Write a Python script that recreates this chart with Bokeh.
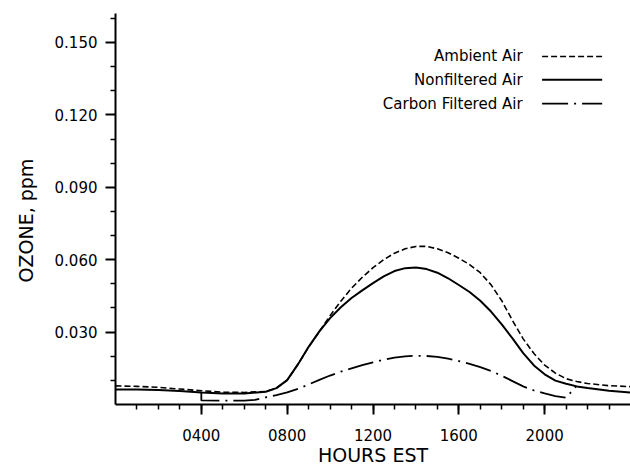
from bokeh.plotting import figure
from bokeh.models import FixedTicker, Range1d, Title, NumeralTickFormatter
from bokeh.core.properties import value
from bokeh.embed import file_html
from bokeh.resources import INLINE

# ---- data ----
ambient_hours = [0, 1, 2, 3, 4, 5, 6, 7, 7.5, 8, 8.5, 9, 9.5, 10, 10.5, 11, 11.5, 12, 12.5, 13, 13.5,
                 14, 14.5, 15, 15.5, 16, 16.5, 17, 17.5, 18, 18.5, 19, 19.5, 20, 20.5, 21, 21.5, 22, 23, 24]
ambient_ppm = [0.0077, 0.0075, 0.0071, 0.0064, 0.0057, 0.0051, 0.0050, 0.0054, 0.0068, 0.0101, 0.0166,
               0.0238, 0.0302, 0.0368, 0.0428, 0.0482, 0.0527, 0.0567, 0.0600, 0.0627, 0.0645,
               0.0655, 0.0655, 0.0645, 0.0629, 0.0606, 0.0580, 0.0546, 0.0496, 0.0430, 0.0348,
               0.0272, 0.0211, 0.0163, 0.0130, 0.0107, 0.0095, 0.0087, 0.0078, 0.0074]

nonfilt_hours = [0, 1, 2, 3, 4, 5, 6, 7, 7.5, 8, 8.5, 9, 9.5, 10, 10.5, 11, 11.5, 12, 12.5, 13, 13.5,
                 14, 14.5, 15, 15.5, 16, 16.5, 17, 17.5, 18, 18.5, 19, 19.5, 20, 20.5, 21, 21.5, 22, 23, 24]
nonfilt_ppm = [0.0062, 0.0062, 0.0060, 0.0056, 0.0050, 0.0046, 0.0046, 0.0053, 0.0068, 0.0101, 0.0166,
               0.0239, 0.0303, 0.0358, 0.0403, 0.0441, 0.0473, 0.0503, 0.0531, 0.0553, 0.0565,
               0.0568, 0.0561, 0.0546, 0.0523, 0.0495, 0.0466, 0.0430, 0.0385, 0.0332, 0.0274,
               0.0213, 0.0162, 0.0125, 0.0099, 0.0086, 0.0075, 0.0068, 0.0057, 0.0050]

carbon_hours = [4, 4, 5, 6, 6.5, 7, 7.5, 8, 8.5, 9, 9.5, 10, 10.5, 11, 11.5, 12, 12.5, 13, 13.5, 14,
                14.5, 15, 15.5, 16, 16.5, 17, 17.5, 18, 18.5, 19, 19.5, 20, 20.5, 21, 21.45]
carbon_ppm = [0.0050, 0.0017, 0.0016, 0.0016, 0.0019, 0.0030, 0.0039, 0.0050, 0.0065, 0.0083, 0.0102,
              0.0120, 0.0136, 0.0150, 0.0163, 0.0175, 0.0186, 0.0194, 0.0199, 0.0202, 0.0201,
              0.0197, 0.0190, 0.0180, 0.0168, 0.0155, 0.0139, 0.0119, 0.0097, 0.0075, 0.0058,
              0.0046, 0.0035, 0.0028, 0.0074]

x_tick_values = [4, 8, 12, 16, 20]
x_tick_labels = ["0400", "0800", "1200", "1600", "2000"]
x_minor_ticks = list(range(1, 24))
y_tick_values = [0.03, 0.06, 0.09, 0.12, 0.15]
y_minor_ticks = [0.01, 0.02, 0.04, 0.05, 0.07, 0.08, 0.10, 0.11, 0.13, 0.14, 0.16]

legend_labels = ["Ambient Air", "Nonfiltered Air", "Carbon Filtered Air"]

FONT = "DejaVu Sans"

p = figure(width=630, height=469, x_range=Range1d(0, 24), y_range=Range1d(0, 0.162),
           output_backend="svg", toolbar_location=None,
           min_border_left=115, min_border_right=0, min_border_top=13, min_border_bottom=65)
p.outline_line_color = None
p.xgrid.visible = False
p.ygrid.visible = False
p.background_fill_color = "white"

# axes
for ax in (p.xaxis[0], p.yaxis[0]):
    ax.axis_line_width = 2
    ax.axis_line_color = "black"
    ax.major_tick_line_width = 2
    ax.minor_tick_line_width = 1.5
    ax.major_tick_line_color = "black"
    ax.minor_tick_line_color = "black"
    ax.major_tick_out = 10
    ax.major_tick_in = 0
    ax.minor_tick_out = 5
    ax.minor_tick_in = 0
    ax.major_label_text_font = FONT
    ax.major_label_text_font_size = "15px"
    ax.major_label_text_color = "black"

p.xaxis.ticker = FixedTicker(ticks=x_tick_values, minor_ticks=x_minor_ticks)
p.xaxis.major_label_overrides = dict(zip(x_tick_values, x_tick_labels))
p.xaxis.major_label_standoff = 14
p.xaxis.axis_label = "HOURS EST"
p.xaxis.axis_label_text_font = FONT
p.xaxis.axis_label_text_font_size = "19px"
p.xaxis.axis_label_text_font_style = "normal"
p.xaxis.axis_label_text_color = "black"
p.xaxis.axis_label_standoff = 0

p.yaxis.ticker = FixedTicker(ticks=y_tick_values, minor_ticks=y_minor_ticks)
p.yaxis.formatter = NumeralTickFormatter(format="0.000")
p.yaxis.major_label_standoff = 8

ytitle = Title(text="OZONE, ppm", align="left", offset=122, vertical_align="top",
               text_font=FONT, text_font_size="19px", text_font_style="normal",
               text_color="black", standoff=26)
p.add_layout(ytitle, "left")

# data lines
p.line(ambient_hours, ambient_ppm, line_color="black", line_width=1.6, line_dash="6 3")
p.line(nonfilt_hours, nonfilt_ppm, line_color="black", line_width=2)
p.line(carbon_hours, carbon_ppm, line_color="black", line_width=1.8, line_dash="26 6 2 6")

# legend (text right-aligned, sample line on the right)
leg_text_x = 18.97
leg_line_x0 = 19.88
leg_line_x1 = 22.68
leg_rows = [0.1442, 0.1345, 0.1247]
p.text(x=[leg_text_x] * 3, y=leg_rows, text=legend_labels, text_align="right",
       text_baseline="middle", text_font=value(FONT), text_font_size="15px", text_color="black")
dashes = ["6 3", "solid", "26 6 2 6"]
widths = [1.6, 2, 1.8]
for row, dash, w in zip(leg_rows, dashes, widths):
    p.line([leg_line_x0, leg_line_x1], [row, row], line_color="black", line_width=w, line_dash=dash)

open("out.html", "w").write(file_html(p, INLINE))
